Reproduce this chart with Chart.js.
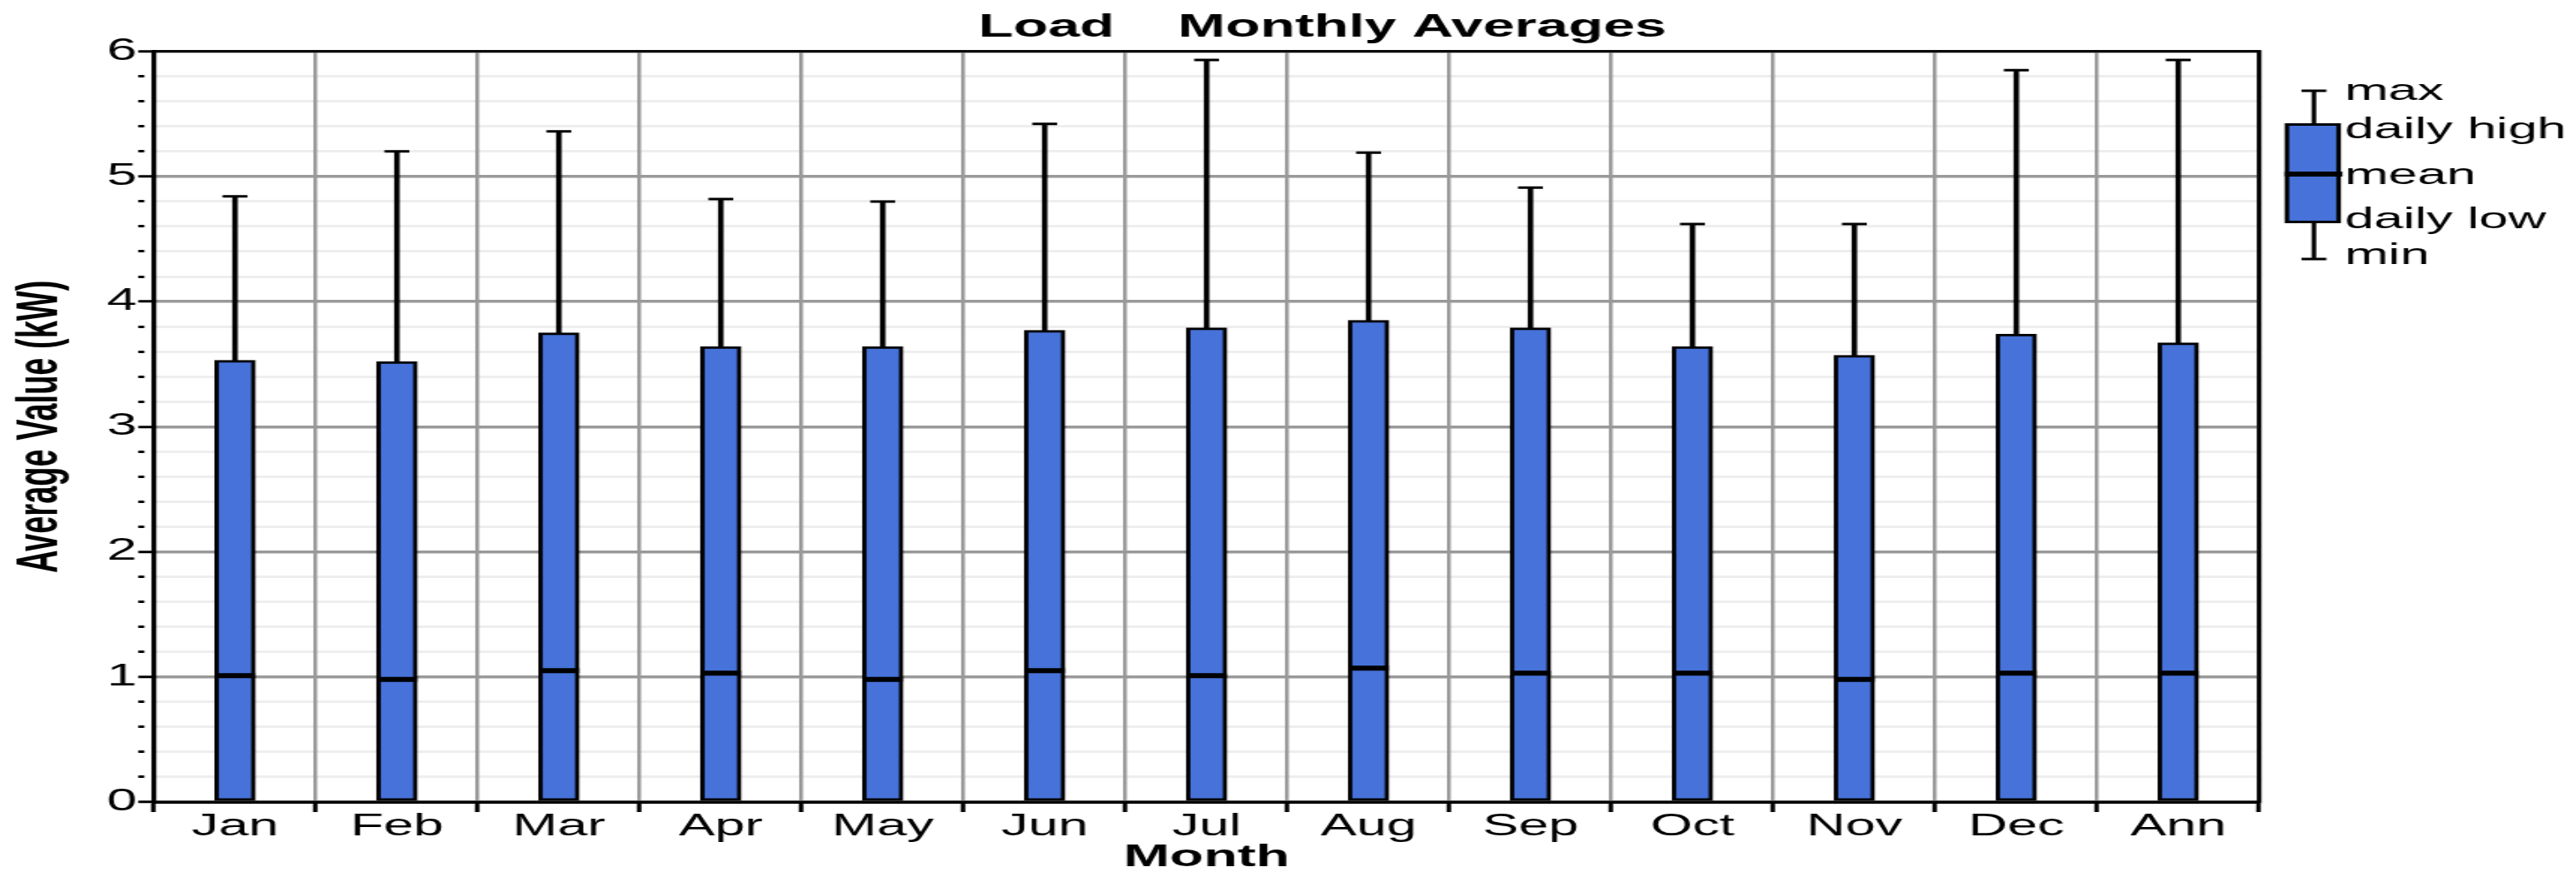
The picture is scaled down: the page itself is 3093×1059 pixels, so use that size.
<!DOCTYPE html>
<html>
<head>
<meta charset="utf-8">
<script src="https://cdn.jsdelivr.net/npm/chart.js@4.4.1/dist/chart.umd.min.js"></script>
<style>
  body { margin: 0; background: #fff; }
</style>
</head>
<body>
<!-- drawn narrow then stretched wide, like the original picture -->
<canvas id="myChart" width="1718" height="1059" style="width:3093px;height:1059px;display:block"></canvas>
<script>
const months = ['Jan', 'Feb', 'Mar', 'Apr', 'May', 'Jun', 'Jul', 'Aug', 'Sep', 'Oct', 'Nov', 'Dec', 'Ann'];
const dailyHigh = [3.53, 3.52, 3.75, 3.64, 3.64, 3.77, 3.79, 3.85, 3.79, 3.64, 3.57, 3.74, 3.67];
const dailyLow = [0, 0, 0, 0, 0, 0, 0, 0, 0, 0, 0, 0, 0];
const maxVals = [4.84, 5.20, 5.36, 4.82, 4.80, 5.42, 5.93, 5.19, 4.91, 4.62, 4.62, 5.85, 5.93];
const meanVals = [1.01, 0.98, 1.05, 1.03, 0.98, 1.05, 1.01, 1.07, 1.03, 1.03, 0.98, 1.03, 1.03];
const legendLabels = ['max', 'daily high', 'mean', 'daily low', 'min'];

const boxBlue = '#4672d9';
const fontFam = "'Liberation Sans', Arial, sans-serif";

function isMajor(v) {
    return Math.abs(v - Math.round(v)) < 0.001;
}

// box-plot legend on the right + frame round the plot
const boxLegend = {
    id: 'boxLegend',
    afterDraw(chart) {
        const ctx = chart.ctx;
        const a = chart.chartArea;
        const cx = a.right + 36.5;
        ctx.save();
        ctx.strokeStyle = '#000';
        ctx.lineWidth = 3;
        ctx.strokeRect(a.left, a.top, a.right - a.left, a.bottom - a.top);

        // whiskers
        ctx.beginPath();
        ctx.moveTo(cx - 8.3, 109); ctx.lineTo(cx + 8.3, 109);
        ctx.moveTo(cx, 109); ctx.lineTo(cx, 148);
        ctx.moveTo(cx, 268); ctx.lineTo(cx, 311);
        ctx.moveTo(cx - 8.3, 311); ctx.lineTo(cx + 8.3, 311);
        ctx.stroke();
        // box
        ctx.fillStyle = boxBlue;
        ctx.fillRect(a.right + 18.5, 149.5, 34.5, 117);
        ctx.strokeRect(a.right + 18.5, 149.5, 34.5, 117);
        ctx.lineWidth = 6;
        ctx.beginPath();
        ctx.moveTo(a.right + 17, 209); ctx.lineTo(a.right + 55.5, 209);
        ctx.stroke();

        ctx.fillStyle = '#000';
        ctx.font = '35px ' + fontFam;
        ctx.textBaseline = 'middle';
        ctx.textAlign = 'left';
        const rows = [110, 156, 211, 264, 307];
        legendLabels.forEach(function(t, i) {
            ctx.fillText(t, a.right + 57, rows[i]);
        });
        ctx.restore();
    }
};

const ctx = document.getElementById('myChart').getContext('2d');
var chart = new Chart(ctx, {
    type: 'bar',
    data: {
        labels: months,
        datasets: [{
            type: 'line',
            label: 'mean',
            data: meanVals,
            showLine: false,
            pointStyle: 'line',
            pointRadius: 13.5,
            pointHoverRadius: 13.5,
            pointBorderWidth: 6,
            pointBorderColor: '#000'
        }, {
            type: 'line',
            label: 'max',
            data: maxVals,
            showLine: false,
            pointStyle: 'line',
            pointRadius: 8.3,
            pointHoverRadius: 8.3,
            pointBorderWidth: 3,
            pointBorderColor: '#000'
        }, {
            label: 'daily low - daily high',
            data: months.map((m, i) => [dailyLow[i], dailyHigh[i]]),
            backgroundColor: boxBlue,
            borderColor: '#000',
            borderWidth: 3,
            borderSkipped: false,
            barThickness: 27,
            grouped: false
        }, {
            label: 'daily high - max',
            data: months.map((m, i) => [dailyHigh[i], maxVals[i]]),
            backgroundColor: '#000',
            borderWidth: 0,
            barThickness: 3,
            grouped: false
        }]
    },
    options: {
        responsive: false,
        devicePixelRatio: 1,
        animation: false,
        layout: { padding: { left: 46, right: 0, top: 0, bottom: 11 } },
        plugins: {
            legend: { display: false },
            tooltip: { enabled: false },
            title: {
                display: true,
                text: 'Load    Monthly Averages',
                color: '#000',
                font: { family: fontFam, size: 38, weight: 'bold', lineHeight: 1.2 },
                padding: { top: 11, bottom: 5 }
            }
        },
        scales: {
            x: {
                offset: true,
                grid: {
                    offset: true,
                    color: '#999999',
                    lineWidth: 2.5,
                    tickColor: '#000',
                    tickWidth: 3,
                    tickLength: 12
                },
                border: { display: true, color: '#000', width: 3 },
                ticks: {
                    color: '#000',
                    padding: 0,
                    font: { family: fontFam, size: 36, lineHeight: 1 }
                },
                title: {
                    display: true,
                    text: 'Month',
                    color: '#000',
                    font: { family: fontFam, size: 37, weight: 'bold', lineHeight: 1 },
                    padding: { top: 0, bottom: 0 }
                }
            },
            y: {
                min: 0,
                max: 6,
                grid: {
                    z: -2, // under the vertical month lines
                    color: (c) => isMajor(c.tick.value) ? '#999999' : '#eeeeee',
                    lineWidth: (c) => isMajor(c.tick.value) ? 3.5 : 3,
                    tickColor: '#000',
                    tickWidth: 3,
                    tickLength: 10.5,
                    tickBorderDash: (c) => isMajor(c.tick.value) ? [] : [4, 60]
                },
                border: { display: true, color: '#000', width: 3 },
                ticks: {
                    stepSize: 0.2,
                    autoSkip: false,
                    color: '#000',
                    padding: 1,
                    font: { family: fontFam, size: 36, lineHeight: 1 },
                    callback: (v) => isMajor(v) ? String(Math.round(v)) : ''
                },
                title: {
                    display: true,
                    text: 'Average Value (kW)',
                    color: '#000',
                    font: { family: fontFam, size: 38, weight: 'bold', lineHeight: 1 },
                    padding: { top: -37.2, bottom: 23.4 }
                }
            },
            // empty axis that only keeps room for the legend
            y2: {
                position: 'right',
                display: true,
                grid: { display: false },
                border: { display: false },
                ticks: { display: false },
                afterFit: function(scale) { scale.width = 211.3; }
            }
        }
    },
    plugins: [boxLegend]
});
</script>
</body>
</html>
